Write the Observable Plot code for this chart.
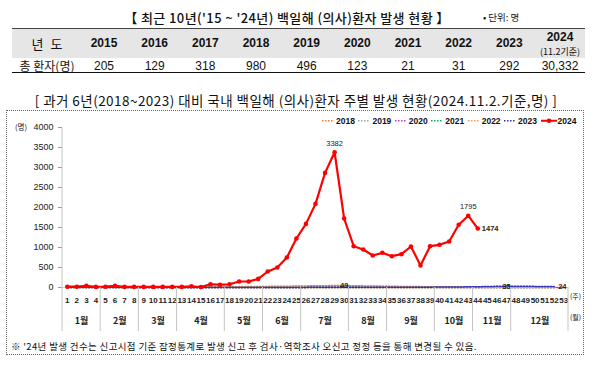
<!DOCTYPE html>
<html><head><meta charset="utf-8">
<script src="https://cdn.jsdelivr.net/npm/d3@7"></script>
<script src="https://cdn.jsdelivr.net/npm/@observablehq/plot@0.6"></script>
<style>
body{margin:0;background:#fff;font-family:"Noto Sans CJK KR","Noto Sans",sans-serif;color:#111;}
#page{position:relative;width:600px;height:365px;overflow:hidden;background:#fff;}
.abs{position:absolute;white-space:nowrap;line-height:1;z-index:2;}
.num{font-family:"Liberation Sans",Arial,sans-serif;}
svg{position:absolute;left:0;top:110px;overflow:visible;z-index:1;}
</style></head><body><div id="page"></div>
<script>
// ---- table data ----
const tableYears = ["2015","2016","2017","2018","2019","2020","2021","2022","2023","2024"];
const tableCounts = ["205","129","318","980","496","123","21","31","292","30,332"];

// ---- chart data ----
const weeks = [1,2,3,4,5,6,7,8,9,10,11,12,13,14,15,16,17,18,19,20,21,22,23,24,25,26,27,28,29,30,31,32,33,34,35,36,37,38,39,40,41,42,43,44,45,46,47,48,49,50,51,52,53];
const yTicks = [0,500,1000,1500,2000,2500,3000,3500,4000];
const monthNames = ["1월","2월","3월","4월","5월","6월","7월","8월","9월","10월","11월","12월"];
const monthStartWeek = [1,5,9,13,18,22,26,31,35,40,44,48];
const monthEndWeek = [4,8,12,17,21,25,30,34,39,43,47,53];

const seriesNames = ["2018","2019","2020","2021","2022","2023","2024"];
const seriesColors = ["#ED7D31","#A5A5A5","#CC33CC","#00B050","#F79646","#2E2EB8","#FF0000"];
const v2018 = [8,9,10,11,10,12,11,13,12,14,13,15,16,15,17,18,20,19,22,24,26,28,30,33,36,40,43,46,48,49,45,41,37,34,30,27,25,22,20,18,17,15,14,13,12,11,10,10,9,9,8,8];
const v2019 = [12,11,13,12,10,11,12,10,11,12,10,9,10,11,9,10,11,12,10,9,11,10,12,11,10,9,11,10,9,8,10,9,8,9,8,7,8,9,7,8,7,8,6,7,8,6,7,6,5,6,5,6];
const v2020 = [6,7,8,6,5,4,3,3,2,2,2,1,2,1,2,1,2,2,1,2,1,2,2,1,2,1,2,1,2,2,1,2,1,2,1,2,1,2,1,1,2,1,2,1,1,2,1,1,2,1,1,2,1];
const v2021 = [1,0,1,0,0,1,0,1,0,0,1,0,0,1,0,0,1,0,0,1,0,1,0,0,1,0,0,1,0,1,0,0,1,0,0,1,0,1,0,0,1,0,0,1,0,1,0,0,1,0,0,1];
const v2022 = [0,1,0,1,0,0,1,0,1,0,0,1,0,1,0,1,0,0,1,0,1,0,1,0,1,0,1,0,1,1,0,1,0,1,0,1,0,1,0,1,0,1,0,1,0,1,1,0,1,0,1,2];
const v2023 = [1,0,1,1,0,1,0,1,1,0,1,1,0,1,1,2,1,2,2,1,2,3,2,3,2,3,4,3,4,5,4,5,6,5,6,7,6,8,9,10,12,14,17,20,25,30,35,32,30,28,26,24];
const v2024 = [20,20,40,15,20,40,15,15,15,15,15,15,15,30,10,80,70,80,150,150,215,400,500,750,1225,1590,2090,2865,3382,1725,1033,950,800,867,783,833,1025,550,1033,1067,1150,1567,1795,1474];
const seriesValues = [v2018,v2019,v2020,v2021,v2022,v2023,v2024];

// data labels: series, week, placement
const labelSeries = ["2024","2024","2024","2018","2023","2023"];
const labelWeeks = [29,43,44,30,47,52];
const labelPlace = ["top","top","right","center","center","right"];

const page = document.getElementById("page");
function add(html, style, cls){const d=document.createElement("div");d.className="abs "+(cls||"");d.innerHTML=html;Object.assign(d.style,style);page.appendChild(d);return d;}

// ---- top title & table ----
add("【 최근 10년('15 ~ '24년) 백일해 (의사)환자 발생 현황 】",{left:"287px",top:"17px",transform:"translate(-50%,-50%)",fontSize:"13px",letterSpacing:"0.4px",fontWeight:"500"});
add("• 단위: 명",{left:"483px",top:"18px",transform:"translateY(-50%)",fontSize:"9.5px"});
add("",{left:"12px",top:"28px",width:"573px",height:"29px",background:"#E7E6E6",borderTop:"1px solid #444",zIndex:0});
add("",{left:"12px",top:"72px",width:"573px",height:"0",borderTop:"1.5px solid #111"});
add("년 도",{left:"47px",top:"43px",transform:"translate(-50%,-50%)",fontSize:"13px",wordSpacing:"4px"});
add("총 환자(명)",{left:"47px",top:"66px",transform:"translate(-50%,-50%)",fontSize:"12px"});
tableYears.forEach((y,i)=>{
  const cx = 104 + i*50.67;
  if (y==="2024"){
    add(y,{left:cx+"px",top:"37px",transform:"translate(-50%,-50%)",fontSize:"12px",fontWeight:"bold"},"num");
    add("(11.2기준)",{left:cx+"px",top:"51px",transform:"translate(-50%,-50%)",fontSize:"9px"});
  } else {
    add(y,{left:cx+"px",top:"43px",transform:"translate(-50%,-50%)",fontSize:"12px",fontWeight:"bold"},"num");
  }
  add(tableCounts[i],{left:cx+"px",top:"66px",transform:"translate(-50%,-50%)",fontSize:"12px"},"num");
});

// ---- chart title & box ----
add("[ 과거 6년(2018~2023) 대비 국내 백일해 (의사)환자 주별 발생 현황(2024.11.2.기준,명) ]",{left:"296px",top:"101px",transform:"translate(-50%,-50%)",fontSize:"13.5px",letterSpacing:"0.45px"});
add("",{left:"6px",top:"110px",width:"578px",height:"245px",border:"1px dotted #666",boxSizing:"border-box"});
add("※ '24년 발생 건수는 신고시점 기준 잠정통계로 발생 신고 후 검사·역학조사 오신고 정정 등을 통해 변경될 수 있음.",{left:"11px",top:"347px",transform:"translateY(-50%)",fontSize:"9.5px",letterSpacing:"0.35px"});
add("(명)",{left:"15px",top:"127px",transform:"translateY(-50%)",fontSize:"7.5px"});
add("(주)",{left:"570px",top:"296px",transform:"translateY(-50%)",fontSize:"7px"});
add("(월)",{left:"570px",top:"317px",transform:"translateY(-50%)",fontSize:"7px"});

// legend
const legend = add("",{left:"322px",top:"121px",transform:"translateY(-50%)",display:"flex",alignItems:"center",fontSize:"8.5px",fontWeight:"bold"},"num");
seriesNames.forEach((n,i)=>{
  const it=document.createElement("span");
  it.style.cssText="display:inline-flex;align-items:center;margin-right:3.5px;";
  if (n==="2024"){
    it.innerHTML=`<svg width="16" height="6" style="position:static;margin-right:1px"><line x1="0" x2="16" y1="3" y2="3" stroke="${seriesColors[i]}" stroke-width="2"/><circle cx="8" cy="3" r="2.3" fill="${seriesColors[i]}"/></svg>${n}`;
  } else {
    it.innerHTML=`<svg width="11" height="4" style="position:static;margin-right:3px"><line x1="0" x2="11" y1="2" y2="2" stroke="${seriesColors[i]}" stroke-width="1.5" stroke-dasharray="1.5,1.5"/></svg>${n}`;
  }
  legend.appendChild(it);
});

// ---- plot ----
const rows = [];
seriesNames.forEach((name,i)=> seriesValues[i].forEach((v,j)=> rows.push({series:name, week:weeks[j], value:v})));
const rows2024 = rows.filter(d=>d.series==="2024");
const dottedRows = rows.filter(d=>d.series!=="2024");
const labels = labelSeries.map((s,i)=>{
  const r = rows.find(d=>d.series===s && d.week===labelWeeks[i]);
  return {...r, place: labelPlace[i], text: String(r.value)};
});
const months = monthNames.map((m,i)=>({name:m, mid:(monthStartWeek[i]+monthEndWeek[i])/2}));

const plot = Plot.plot({
  width: 600, height: 225,
  marginLeft: 62, marginRight: 32, marginTop: 17, marginBottom: 48,
  style: {background:"transparent", fontFamily:"'Liberation Sans',Arial,sans-serif"},
  x: {domain:[0.5,53.5], axis:null},
  y: {domain:[0,4000], axis:null},
  color: {domain: seriesNames, range: seriesColors},
  marks: [
    Plot.ruleY([0], {stroke:"#d0d0d0"}),
    Plot.axisY({ticks: yTicks, tickSize: 4, tickPadding: 5, tickFormat: d=>String(d), label: null, fontSize: 9, stroke:"#999", color:"#222"}),
    Plot.axisX({ticks: weeks, tickSize: 0, tickPadding: 10, tickFormat: d=>String(d), label: null, fontSize: 8, fontWeight:"bold", color:"#222"}),
    Plot.line(dottedRows, {x:"week", y:"value", z:"series", stroke:"series", strokeWidth:1.5, strokeDasharray:"1.5,1.5"}),
    Plot.line(rows2024, {x:"week", y:"value", stroke:"#FF0000", strokeWidth:2.2}),
    Plot.dot(rows2024, {x:"week", y:"value", r:2.3, fill:"#FF0000", stroke:"none"}),
    Plot.text(labels.filter(d=>d.place==="top"), {x:"week", y:"value", text:"text", dy:-9, fontSize:7.5, fill:"#222"}),
    Plot.text(labels.filter(d=>d.place==="right"), {x:"week", y:"value", text:"text", dx:4, textAnchor:"start", fontSize:7.5, fontWeight:"bold", fill:"#222"}),
    Plot.text(labels.filter(d=>d.place==="center"), {x:"week", y:"value", text:"text", fontSize:7.5, fontWeight:"bold", fill:"#222"}),
    Plot.text(months, {x:"mid", text:"name", frameAnchor:"bottom", dy:36, fontSize:9, fontWeight:"bold", fill:"#222", fontFamily:"'Noto Sans CJK KR',sans-serif"})
  ]
});
page.appendChild(plot);

// month separators and y-axis line, positioned with Plot's x scale
const xs = plot.scale("x");
const sel = d3.select(plot);
const bounds = monthStartWeek.map(w=>w-0.5).concat([monthEndWeek[monthEndWeek.length-1]+0.5]);
bounds.forEach((b,i)=>{
  sel.append("line").attr("x1",xs.apply(b)).attr("x2",xs.apply(b))
    .attr("y1", i===0 ? 17 : 177).attr("y2", 221)
    .attr("stroke","#c4c4c4").attr("stroke-width",1);
});
</script></body></html>
